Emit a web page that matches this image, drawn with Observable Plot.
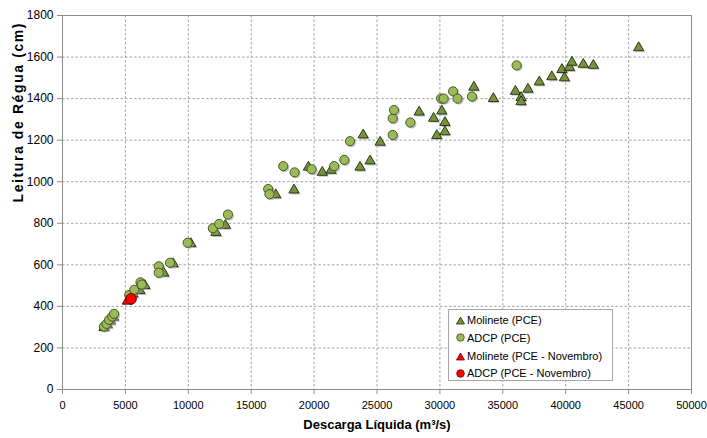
<!DOCTYPE html>
<html><head><meta charset="utf-8">
<script src="https://cdn.jsdelivr.net/npm/d3@7"></script>
<script src="https://cdn.jsdelivr.net/npm/@observablehq/plot@0.6"></script>
<style>
body{margin:0;background:#fff;font-family:"Liberation Sans",Arial,sans-serif;}
#wrap{position:relative;width:707px;height:438px;}
#legend{position:absolute;left:448px;top:309px;width:165px;height:72px;border:1px solid #a6a6a6;background:#fff;box-sizing:border-box;font-size:11px;color:#000;}
.row{position:absolute;left:7px;height:14px;display:flex;align-items:center;white-space:nowrap;}
.row svg{margin-right:2px;}
</style></head><body><div id="wrap"></div>
<script>
// Molinete (PCE) — discharge (m³/s), gauge reading (cm)
const molineteQ = [3300,3550,3800,4050,5600,6150,6550,8050,8800,10200,12200,12950,16950,18400,19550,20650,21350,23650,23900,24450,25250,28350,29500,29750,30150,30400,30400,32700,34250,36000,36450,36450,37000,37900,38900,39700,39900,40300,40500,41400,42200,45800];
const molineteH = [298,312,330,348,460,476,500,560,605,702,755,790,937,960,1070,1045,1055,1070,1225,1100,1190,1335,1305,1222,1340,1285,1240,1455,1400,1435,1405,1385,1445,1480,1505,1540,1500,1550,1575,1565,1560,1645];
// ADCP (PCE)
const adcpQ = [3300,3500,3700,3950,4100,5300,5700,6200,6300,7650,7650,8550,9950,11950,12450,13150,16350,16450,17550,18450,19800,21600,22400,22850,26250,26250,26350,27650,30100,30300,31050,31400,32550,36100];
const adcpH = [303,316,335,351,364,455,480,516,505,593,562,610,706,776,797,842,965,940,1075,1045,1060,1075,1105,1195,1225,1305,1345,1285,1400,1400,1435,1400,1410,1560];
// Novembro
const molineteNovQ = [5150];
const molineteNovH = [425];
const adcpNovQ = [5450];
const adcpNovH = [436];

const xTicks = [0,5000,10000,15000,20000,25000,30000,35000,40000,45000,50000];
const yTicks = [0,200,400,600,800,1000,1200,1400,1600,1800];
const xTitle = "Descarga Líquida (m³/s)";
const yTitle = "Leitura de Régua (cm)";
const seriesNames = ["Molinete (PCE)","ADCP (PCE)","Molinete (PCE - Novembro)","ADCP (PCE - Novembro)"];

const toRows = (qs, hs) => qs.map((q, i) => ({q, h: hs[i]}));
const molinete = toRows(molineteQ, molineteH);
const adcp = toRows(adcpQ, adcpH);
const molineteNov = toRows(molineteNovQ, molineteNovH);
const adcpNov = toRows(adcpNovQ, adcpNovH);

const GRID = "#a3a3a3";
const AXIS = "#8c8c8c";
const triFill = "#77933c", triStroke = "#1f2a0f";
const cirFill = "#9bbb59", cirStroke = "#3a4a1c";
const shadow = (data, sym, r) => Plot.dot(data, {x:"q", y:"h", symbol:sym, r, fill:"#9a9a9a", fillOpacity:0.55, stroke:"none", dx:1.5, dy:1.5});

const chart = Plot.plot({
  width:707, height:438, marginLeft:62, marginRight:16, marginTop:15, marginBottom:49,
  style:{fontFamily:"'Liberation Sans', Arial, sans-serif", fontSize:"11px", color:"#000", background:"#fff", overflow:"visible"},
  x:{domain:[0,50000]},
  y:{domain:[0,1800]},
  marks:[
    Plot.gridX(xTicks.filter(d => d > 0 && d < 50000), {stroke:GRID, strokeOpacity:1, strokeDasharray:"2.5,2"}),
    Plot.gridY(yTicks.filter(d => d > 0 && d < 1800), {stroke:GRID, strokeOpacity:1, strokeDasharray:"2.5,2"}),
    Plot.frame({stroke:AXIS}),
    Plot.axisX(xTicks, {tickSize:5, tickPadding:7, tickFormat:d3.format("d"), label:null, fontSize:11, stroke:AXIS}),
    Plot.axisY(yTicks, {tickSize:5, tickPadding:4, tickFormat:d3.format("d"), label:null, fontSize:12, stroke:AXIS}),
    shadow(molinete, "triangle", 3.8),
    Plot.dot(molinete, {x:"q", y:"h", symbol:"triangle", r:3.8, fill:triFill, stroke:triStroke, strokeWidth:0.9}),
    shadow(adcp, "circle", 4.6),
    Plot.dot(adcp, {x:"q", y:"h", symbol:"circle", r:4.6, fill:cirFill, stroke:cirStroke, strokeWidth:0.9}),
    Plot.dot(molineteNov, {x:"q", y:"h", symbol:"triangle", r:3.8, fill:"#ff0000", stroke:"#5a0000", strokeWidth:0.9}),
    Plot.dot(adcpNov, {x:"q", y:"h", symbol:"circle", r:5.3, fill:"#ff0000", stroke:"#5a0000", strokeWidth:0.9}),
    Plot.text([xTitle], {text:d => d, frameAnchor:"bottom", dy:39, fontWeight:"bold", fontSize:13}),
    Plot.text([yTitle], {text:d => d, frameAnchor:"left", dx:-44, rotate:-90, fontWeight:"bold", fontSize:14})
  ]
});
d3.select(chart).selectAll("text").filter(function(){ return this.textContent === yTitle; }).attr("letter-spacing","1.6px");

const wrap = document.getElementById("wrap");
wrap.appendChild(chart);

// legend (inside plot area)
const legend = document.createElement("div");
legend.id = "legend";
const markers = [
  `<svg width="9" height="9"><polygon points="4.5,1 8.5,8 0.5,8" fill="${triFill}" stroke="${triStroke}" stroke-width="0.8"/></svg>`,
  `<svg width="9" height="9"><circle cx="4.5" cy="4.5" r="3.8" fill="${cirFill}" stroke="${cirStroke}" stroke-width="0.8"/></svg>`,
  `<svg width="9" height="9"><polygon points="4.5,1 8.5,8 0.5,8" fill="#ff0000" stroke="#5a0000" stroke-width="0.8"/></svg>`,
  `<svg width="9" height="9"><circle cx="4.5" cy="4.5" r="3.8" fill="#ff0000" stroke="#5a0000" stroke-width="0.8"/></svg>`
];
const rowTops = [3, 20.5, 39, 56];
seriesNames.forEach((name, i) => {
  const row = document.createElement("div");
  row.className = "row";
  row.style.top = rowTops[i] + "px";
  row.innerHTML = markers[i] + `<span>${name}</span>`;
  legend.appendChild(row);
});
wrap.appendChild(legend);
</script>
</body></html>
